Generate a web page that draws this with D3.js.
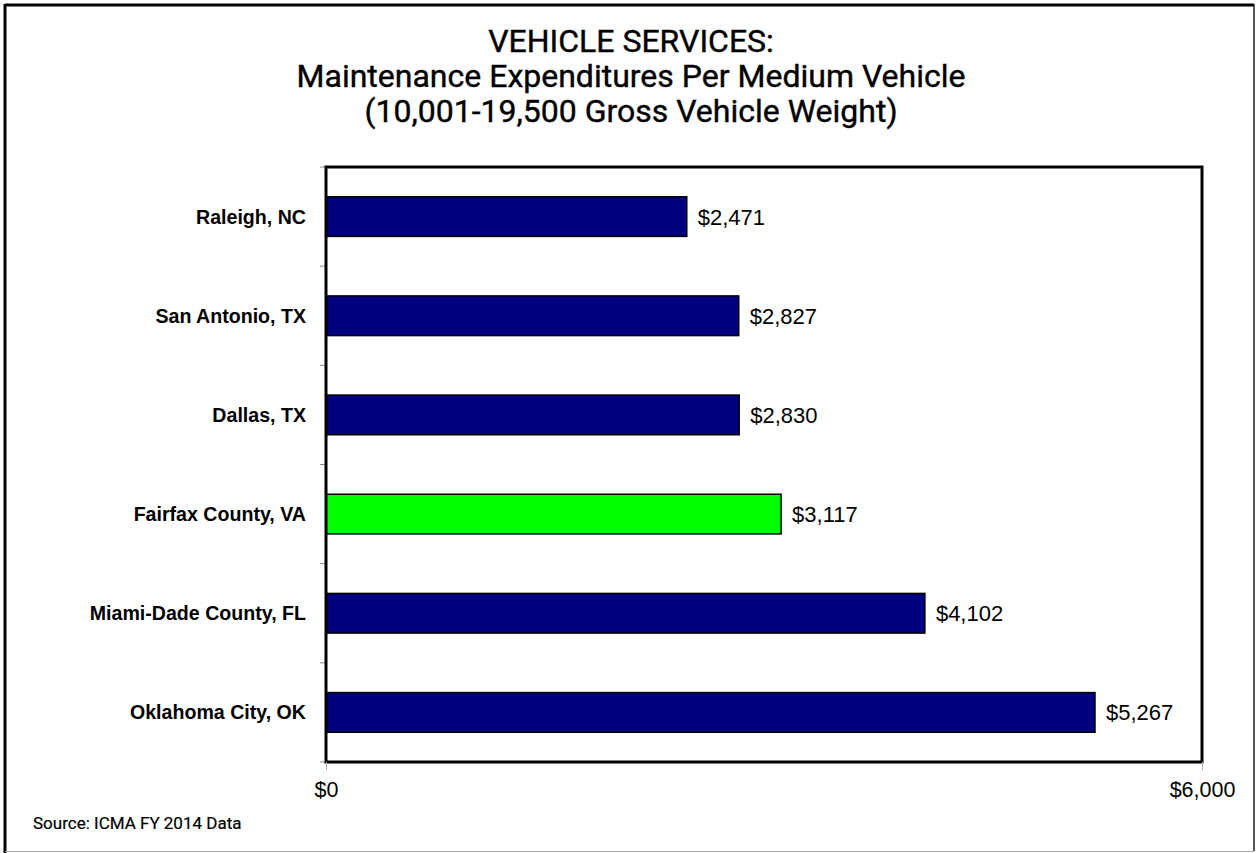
<!DOCTYPE html>
<html>
<head>
<meta charset="utf-8">
<script src="https://cdn.jsdelivr.net/npm/d3@7"></script>
<style>
  html, body { margin: 0; padding: 0; background: #fff; }
  svg { display: block; }
</style>
</head>
<body>
<svg id="chart" width="1256" height="853"></svg>
<script>
// Maintenance expenditures per medium vehicle, FY 2014
const cities = ["Raleigh, NC", "San Antonio, TX", "Dallas, TX", "Fairfax County, VA", "Miami-Dade County, FL", "Oklahoma City, OK"];
const costs = [2471, 2827, 2830, 3117, 4102, 5267];
const highlight = ["Fairfax County, VA"];
const xTicks = [0, 6000];
const titleLines = ["VEHICLE SERVICES:", "Maintenance Expenditures Per Medium Vehicle", "(10,001-19,500 Gross Vehicle Weight)"];
const sourceNote = "Source: ICMA FY 2014 Data";

const svg = d3.select("#chart");
const W = 1256, H = 853;
const plot = { left: 326, top: 167, right: 1202, bottom: 762 };

const titleFont = "Roboto, 'Noto Sans', sans-serif";
const bodyFont = "'Liberation Sans', Arial, sans-serif";

// outer frame
svg.append("rect").attr("x", 0).attr("y", 0).attr("width", W).attr("height", H).attr("fill", "#fff");
svg.append("line").attr("x1", 5).attr("x2", 1254).attr("y1", 5).attr("y2", 5).attr("stroke", "#000").attr("stroke-width", 3);
svg.append("line").attr("x1", 5).attr("x2", 5).attr("y1", 4).attr("y2", 853).attr("stroke", "#000").attr("stroke-width", 3);
svg.append("line").attr("x1", 1254).attr("x2", 1254).attr("y1", 4).attr("y2", 851).attr("stroke", "#222").attr("stroke-width", 1.5);
svg.append("line").attr("x1", 5).attr("x2", 1254).attr("y1", 851.5).attr("y2", 851.5).attr("stroke", "#aaa").attr("stroke-width", 1);

// title
const title = svg.append("text")
  .attr("x", 631).attr("text-anchor", "middle")
  .attr("font-family", titleFont).attr("font-size", 32).attr("fill", "#000")
  .attr("stroke", "#000").attr("stroke-width", 0.4);
titleLines.forEach((t, i) => {
  title.append("tspan").attr("x", 631).attr("y", 52 + i * 35).text(t);
});

const x = d3.scaleLinear().domain([0, 6000]).range([plot.left, plot.right]);
const y = d3.scaleBand().domain(cities).range([plot.top, plot.bottom]).paddingInner(0.6).paddingOuter(0.3);

// category boundary ticks on the left
const boundaries = d3.range(cities.length + 1).map(i => plot.top + i * (plot.bottom - plot.top) / cities.length);
svg.append("g").selectAll("line").data(boundaries).join("line")
  .attr("x1", plot.left - 6).attr("x2", plot.left)
  .attr("y1", d => d).attr("y2", d => d)
  .attr("stroke", "#888").attr("stroke-width", 1);

// bars
svg.append("g").selectAll("rect").data(cities).join("rect")
  .attr("x", x(0))
  .attr("y", d => y(d))
  .attr("width", (d, i) => x(costs[i]) - x(0))
  .attr("height", y.bandwidth())
  .attr("fill", d => highlight.includes(d) ? "#00FF00" : "#000080")
  .attr("stroke", "#000").attr("stroke-width", 1.5);

// value labels
svg.append("g").selectAll("text").data(cities).join("text")
  .attr("x", (d, i) => x(costs[i]) + 11)
  .attr("y", d => y(d) + y.bandwidth() / 2)
  .attr("dy", "0.36em")
  .attr("font-family", bodyFont).attr("font-size", 22).attr("fill", "#000")
  .text((d, i) => "$" + d3.format(",")(costs[i]));

// category labels
svg.append("g").selectAll("text").data(cities).join("text")
  .attr("x", plot.left - 20)
  .attr("y", d => y(d) + y.bandwidth() / 2)
  .attr("dy", "0.36em")
  .attr("text-anchor", "end")
  .attr("font-family", bodyFont).attr("font-weight", "bold").attr("font-size", 19.6).attr("fill", "#000")
  .text(d => d);

// plot frame
svg.append("rect")
  .attr("x", plot.left).attr("y", plot.top)
  .attr("width", plot.right - plot.left).attr("height", plot.bottom - plot.top)
  .attr("fill", "none").attr("stroke", "#000").attr("stroke-width", 3);

// x axis
const xAxis = d3.axisBottom(x).tickValues(xTicks).tickSize(8).tickPadding(12)
  .tickFormat(d => "$" + d3.format(",")(d));
const gx = svg.append("g").attr("transform", `translate(0,${plot.bottom})`).call(xAxis);
gx.select(".domain").remove();
gx.selectAll(".tick line").attr("stroke", "#aaa");
gx.selectAll(".tick text").attr("font-family", bodyFont).attr("font-size", 21.5).attr("fill", "#000");

// source note
svg.append("text").attr("x", 33).attr("y", 829)
  .attr("font-family", titleFont).attr("font-size", 17).attr("fill", "#000")
  .attr("stroke", "#000").attr("stroke-width", 0.2)
  .text(sourceNote);
</script>
</body>
</html>
